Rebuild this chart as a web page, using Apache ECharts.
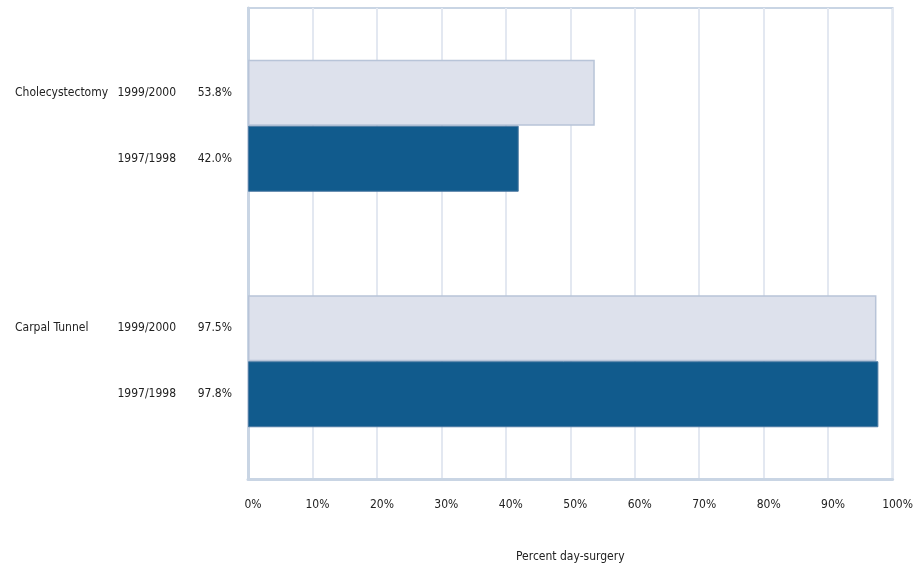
<!DOCTYPE html>
<html>
<head>
<meta charset="utf-8">
<script src="https://cdn.jsdelivr.net/npm/echarts@6/dist/echarts.min.js"></script>
<style>
  html, body { margin: 0; padding: 0; background: #ffffff; }
  #chart { width: 916px; height: 571px; }
</style>
</head>
<body>
<div id="chart"></div>
<script>
// Day-surgery share by procedure, two reporting periods
const procedures = ['Cholecystectomy', 'Carpal Tunnel'];
const periodNames = ['1999/2000', '1997/1998'];
const values19992000 = [53.8, 97.5];
const values19971998 = [42.0, 97.8];
const axisTitle = 'Percent day-surgery';

const FONT = '"Liberation Sans Narrow", "DejaVu Sans Condensed", "Arial Narrow", sans-serif';
const TEXT = '#222222';
const SIZE = 12;

function periodLabel(name) {
  return {
    show: true,
    position: [-16, '50%'],
    align: 'right',
    verticalAlign: 'middle',
    fontFamily: FONT,
    formatter: function (p) {
      return '{y|' + name + '}{v|' + p.value.toFixed(1) + '%}';
    },
    rich: {
      y: { width: 70, align: 'right', fontSize: SIZE, fontFamily: FONT, color: TEXT },
      v: { width: 56, align: 'right', fontSize: SIZE, fontFamily: FONT, color: TEXT }
    }
  };
}

const chart = echarts.init(document.getElementById('chart'), null, { renderer: 'canvas' });
chart.setOption({
  backgroundColor: '#ffffff',
  animation: false,
  grid: {
    left: 248, right: 22, top: 8, bottom: 92,
    show: true, borderColor: '#c9d5e4', borderWidth: 2, backgroundColor: 'transparent'
  },
  xAxis: {
    type: 'value',
    min: 0, max: 100, interval: 10,
    name: axisTitle,
    nameLocation: 'middle',
    nameGap: 72,
    nameTextStyle: { fontFamily: FONT, fontSize: SIZE, color: TEXT },
    axisLine: { show: true, lineStyle: { color: '#c9d5e4', width: 3 } },
    axisTick: { show: false },
    axisLabel: {
      formatter: '{value}%',
      fontFamily: FONT, fontSize: SIZE, color: TEXT,
      margin: 20, padding: [0, 0, 0, 10]
    },
    splitLine: { show: true, lineStyle: { color: '#e3e8f1', width: 2 } }
  },
  yAxis: {
    type: 'category',
    inverse: true,
    data: procedures,
    axisLine: { show: true, lineStyle: { color: '#c9d5e4', width: 3 } },
    axisTick: { show: false },
    splitLine: { show: false },
    axisLabel: {
      align: 'left', margin: 233,
      // name sits on the first line, level with the upper bar of its group
      formatter: function (v) { return '{n|' + v + '}\n{n|}'; },
      rich: {
        n: { fontFamily: FONT, fontSize: SIZE, color: TEXT, lineHeight: 66 }
      }
    }
  },
  series: [
    {
      name: periodNames[0],
      type: 'bar',
      data: values19992000,
      barWidth: 66,
      barGap: '0%',
      itemStyle: { color: '#dde1ec', borderColor: '#b8c4d8', borderWidth: 1.5 },
      label: periodLabel(periodNames[0])
    },
    {
      name: periodNames[1],
      type: 'bar',
      data: values19971998,
      barWidth: 66,
      barGap: '0%',
      itemStyle: { color: '#115b8d', borderColor: '#4d7aa3', borderWidth: 1 },
      label: periodLabel(periodNames[1])
    }
  ]
});
</script>
</body>
</html>
